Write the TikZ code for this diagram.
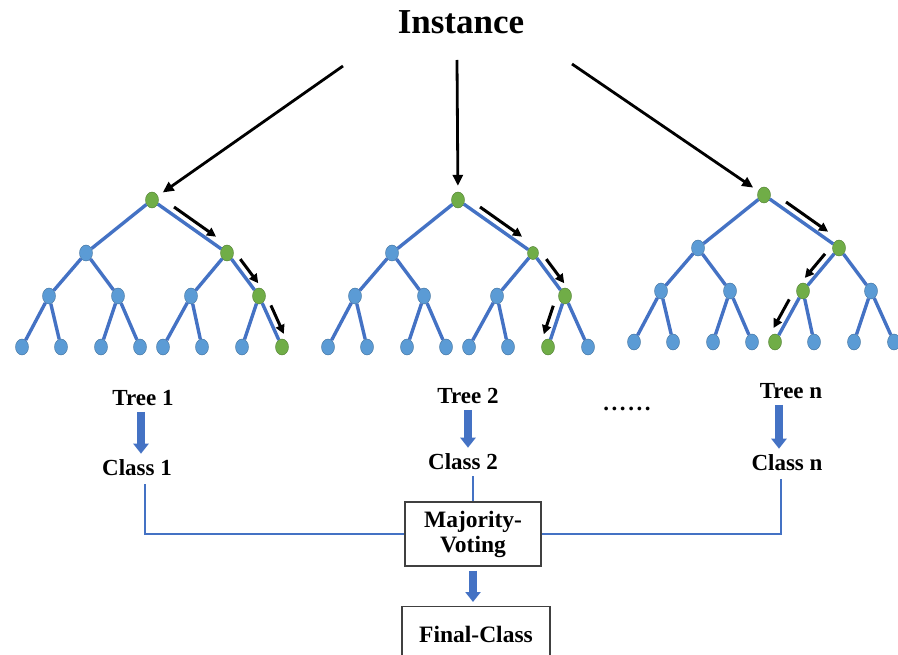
\documentclass[tikz,border=0pt]{standalone}
\usepackage{fontspec}
\setmainfont{Liberation Serif}
\usetikzlibrary{arrows.meta,positioning,calc,shapes.geometric}

\definecolor{edgeblue}{HTML}{4472C4}
\definecolor{dotblue}{HTML}{5B9BD5}
\definecolor{dotline}{HTML}{41719C}
\definecolor{pathgreen}{HTML}{70AD47}
\definecolor{greenline}{HTML}{507E32}

\tikzset{
  treedot/.style={ellipse, fill=dotblue, draw=dotline, line width=0.4pt,
    minimum width=13pt, minimum height=16pt, inner sep=0pt},
  onpath/.style={fill=pathgreen, draw=greenline},
  branch/.style={edgeblue, line width=3.4pt},
  walk/.style={-{Triangle[length=9pt,width=9pt]}, line width=3pt, black},
  feed/.style={-{Triangle[length=11pt,width=10pt]}, line width=2.8pt, black, shorten >=6pt},
  word/.style={font=\fontsize{23}{25}\selectfont\bfseries, inner sep=2pt},
  box/.style={draw=black!75, line width=1.1pt, align=center, inner sep=2pt,
    font=\fontsize{23.5}{25}\selectfont\bfseries},
  blockdown/.style={edgeblue, line width=7.5pt, -{Triangle[length=10pt,width=15pt]},
    shorten <=4pt, shorten >=4pt},
  link/.style={edgeblue, line width=2pt}
}

% one decision tree: #1 name prefix, #2/#3 root position
\newcommand{\rftree}[3]{%
  \begin{scope}[shift={(#2,#3)}]
    \node[treedot, #1r/.try] (#1r) at (0,0) {};
    \node[treedot, #1a/.try] (#1a) at (-66,53) {};
    \node[treedot, #1b/.try] (#1b) at (75,53) {};
    \node[treedot, #1aa/.try] (#1aa) at (-103,96) {};
    \node[treedot, #1ab/.try] (#1ab) at (-34,96) {};
    \node[treedot, #1ba/.try] (#1ba) at (39,96) {};
    \node[treedot, #1bb/.try] (#1bb) at (107,96) {};
    \node[treedot, #1l1/.try] (#1l1) at (-130,147) {};
    \node[treedot, #1l2/.try] (#1l2) at (-91,147) {};
    \node[treedot, #1l3/.try] (#1l3) at (-51,147) {};
    \node[treedot, #1l4/.try] (#1l4) at (-12,147) {};
    \node[treedot, #1l5/.try] (#1l5) at (11,147) {};
    \node[treedot, #1l6/.try] (#1l6) at (50,147) {};
    \node[treedot, #1l7/.try] (#1l7) at (90,147) {};
    \node[treedot, #1l8/.try] (#1l8) at (130,147) {};
  \end{scope}
  \draw[branch] (#1r) -- (#1a) (#1r) -- (#1b)
    (#1a) -- (#1aa) (#1a) -- (#1ab) (#1b) -- (#1ba) (#1b) -- (#1bb)
    (#1aa) -- (#1l1) (#1aa) -- (#1l2) (#1ab) -- (#1l3) (#1ab) -- (#1l4)
    (#1ba) -- (#1l5) (#1ba) -- (#1l6) (#1bb) -- (#1l7) (#1bb) -- (#1l8);
}
% arrow running beside a branch, #3 = side offset
\newcommand{\hop}[3]{%
  \draw[walk] ($(#1)!.24!(#2)!#3!90:(#2)$) -- ($(#1)!.8!(#2)!#3!90:(#2)$);
}

\begin{document}
\begin{tikzpicture}[x=1pt, y=-1pt,
    t1r/.style=onpath, t1b/.style=onpath, t1bb/.style=onpath, t1l8/.style=onpath,
    t2r/.style=onpath, t2b/.style={onpath, minimum width=11pt, minimum height=13pt},
    t2bb/.style=onpath, t2l7/.style=onpath,
    t3r/.style=onpath, t3b/.style=onpath, t3ba/.style=onpath, t3l5/.style=onpath]
  \clip (0,0) rectangle (898,655);

  \node[font=\fontsize{35}{38}\selectfont\bfseries] (inst) at (461,22) {Instance};
  \coordinate (s1) at (343,66);
  \coordinate (s2) at (457,60);
  \coordinate (s3) at (572,64);

  % the trees
  \rftree{t1}{152}{200}
  \rftree{t2}{458}{200}
  \rftree{t3}{764}{195}

  \draw[feed] (s1) -- (t1r);
  \draw[feed] (s2) -- (t2r);
  \draw[feed] (s3) -- (t3r);

  % decision paths
  \hop{t1r}{t1b}{7pt}
  \hop{t1b}{t1bb}{7pt}
  \hop{t1bb}{t1l8}{7pt}
  \hop{t2r}{t2b}{7pt}
  \hop{t2b}{t2bb}{7pt}
  \hop{t2bb}{t2l7}{-8pt}
  \hop{t3r}{t3b}{7pt}
  \hop{t3b}{t3ba}{-7pt}
  \hop{t3ba}{t3l5}{-8pt}

  % votes
  \node[word] (tr1) at (143,398) {Tree 1};
  \node[word] (c1) at (137,468) {Class 1};
  \node[word] (tr2) at (468,396) {Tree 2};
  \node[word] (c2) at (463,462) {Class 2};
  \node[word] (trn) at (791,391) {Tree n};
  \node[word] (cn) at (787,463) {Class n};
  \node[word, font=\fontsize{23}{25}\selectfont\bfseries\addfontfeatures{LetterSpace=11}] (more) at (627,409) {......};

  \node[box, minimum width=136pt, minimum height=64pt] (vote) at (473,534) {Majority-\\Voting};
  \node[box, anchor=north, minimum width=148pt, minimum height=56pt] (final) at (476,606) {Final-Class};

  \draw[blockdown] ([xshift=-2pt]tr1.south) -- ([xshift=-2pt]tr1.south |- c1.north);
  \draw[blockdown] (tr2.south) -- (tr2.south |- c2.north);
  \draw[blockdown] ([xshift=-12pt]trn.south) -- ([xshift=-12pt]trn.south |- cn.north);
  \draw[blockdown] (vote.south) -- (vote.south |- final.north);

  \draw[link, shorten <=6pt] ([xshift=8pt]c1.south) |- (vote.west);
  \draw[link, shorten <=4pt] (vote.north |- c2.south) -- (vote.north);
  \draw[link, shorten <=6pt] ([xshift=-6pt]cn.south) |- (vote.east);
\end{tikzpicture}
\end{document}
